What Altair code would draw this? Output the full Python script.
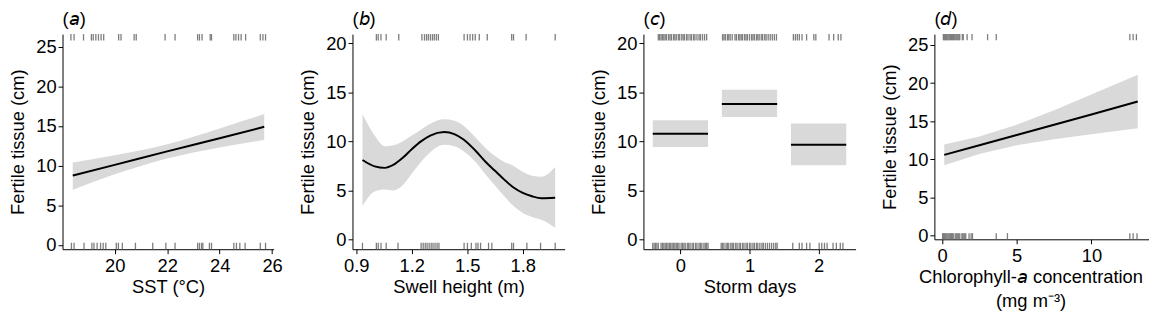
import altair as alt
import pandas as pd

FONT = "Liberation Sans"
FS = 18.5
BAND = "#d9d9d9"
RUG = "#7d7d7d"

# ---------------- panel (a): SST ----------------
a_x = [18.4, 20.0, 22.0, 24.0, 25.7]
a_fit = [8.75, 10.1, 11.8, 13.45, 14.9]
a_lo = [6.95, 8.9, 10.9, 12.3, 13.25]
a_hi = [10.4, 11.3, 12.7, 14.7, 16.5]
a_rug_top = [18.33, 18.45, 18.81, 19.11, 19.18, 19.28, 19.38, 19.48, 19.58, 20.15, 20.24,
             20.74, 20.82, 21.92, 22.30, 23.16, 23.23, 23.33, 23.64, 23.69, 24.54, 24.62,
             24.72, 24.82, 24.99, 25.55, 25.65, 25.75]
a_rug_bot = [18.35, 18.45, 18.83, 19.13, 19.21, 19.33, 19.46, 19.56, 19.66, 20.06, 20.14,
             20.29, 20.79, 21.45, 21.95, 22.30, 23.16, 23.23, 23.31, 23.36, 23.61, 23.69,
             24.54, 24.64, 24.77, 24.97, 25.55, 25.75]

# ---------------- panel (b): swell height ----------------
b_x = [0.934, 1.00, 1.055, 1.10, 1.15, 1.20, 1.25, 1.30, 1.376, 1.43, 1.48, 1.545,
       1.60, 1.65, 1.70, 1.75, 1.80, 1.85, 1.90, 1.975]
b_fit = [8.1, 7.45, 7.3, 7.6, 8.3, 9.2, 10.0, 10.6, 10.95, 10.75, 10.2, 9.05,
         7.9, 7.0, 6.1, 5.3, 4.75, 4.4, 4.2, 4.25]
b_lo = [3.4, 4.9, 5.1, 5.0, 5.5, 6.7, 7.9, 8.9, 9.65, 9.5, 9.0, 7.9,
        6.6, 5.5, 4.4, 3.4, 2.7, 2.3, 2.0, 1.2]
b_hi = [12.8, 10.6, 9.5, 9.6, 10.0, 10.6, 11.2, 11.8, 12.25, 12.1, 11.6, 10.4,
        9.3, 8.5, 7.9, 7.5, 6.9, 6.5, 6.4, 7.4]
b_rug_top = [1.009, 1.019, 1.034, 1.062, 1.130, 1.255, 1.269, 1.280, 1.290, 1.301, 1.312,
             1.322, 1.333, 1.344, 1.483, 1.501, 1.515, 1.529, 1.543, 1.565, 1.608, 1.740,
             1.750, 1.818, 1.975]
b_rug_bot = [0.934, 1.009, 1.019, 1.034, 1.062, 1.126, 1.251, 1.262, 1.273, 1.283, 1.294,
             1.305, 1.315, 1.326, 1.337, 1.347, 1.483, 1.501, 1.522, 1.547, 1.558, 1.572,
             1.615, 1.633, 1.740, 1.750, 1.822, 1.896, 1.975]

# ---------------- panel (c): storm days ----------------
c_cat = [0, 1, 2]
c_fit = [10.79, 13.82, 9.65]
c_lo = [9.44, 12.5, 7.56]
c_hi = [12.17, 15.27, 11.84]
c_rug_top = [-0.32, -0.30, -0.28, -0.26, -0.24, -0.22, -0.20, -0.17, -0.15, -0.13, -0.10,
             -0.08, -0.06, -0.03, -0.01, 0.02, 0.04, 0.06, 0.09, 0.11, 0.14, 0.16, 0.19,
             0.21, 0.24, 0.27, 0.29, 0.32, 0.35, 0.38,
             0.61, 0.63, 0.65, 0.68, 0.70, 0.72, 0.75, 0.79, 0.81, 0.84, 0.86, 0.88, 0.90,
             0.93, 0.95, 0.97, 1.00, 1.03, 1.05, 1.07, 1.10, 1.12, 1.14, 1.17, 1.19, 1.22,
             1.24, 1.27, 1.30, 1.33, 1.36, 1.39,
             1.635, 1.664, 1.692, 1.721, 1.760, 1.826, 1.931, 1.960, 2.151, 2.218, 2.284, 2.323]
c_rug_bot = [-0.40, -0.38, -0.36, -0.34, -0.32, -0.28, -0.26, -0.24, -0.22, -0.20, -0.18,
             -0.16, -0.14, -0.12, -0.10, -0.08, -0.06, -0.04, -0.02, 0.01, 0.03, 0.05, 0.07,
             0.10, 0.12, 0.14, 0.17, 0.19, 0.22, 0.24, 0.27, 0.29, 0.31, 0.34, 0.36, 0.38, 0.40,
             0.59, 0.61, 0.63, 0.66, 0.68, 0.70, 0.73, 0.75, 0.77, 0.80, 0.82, 0.85, 0.87,
             0.90, 0.92, 0.95, 0.97, 1.00, 1.02, 1.05, 1.07, 1.10, 1.12, 1.15, 1.18, 1.20,
             1.23, 1.26, 1.29, 1.32, 1.35, 1.38, 1.40,
             1.626, 1.721, 1.760, 1.826, 1.874, 2.008, 2.046, 2.085, 2.123, 2.209, 2.257,
             2.314, 2.352]

# ---------------- panel (d): chlorophyll-a ----------------
d_x = [0.15, 2.5, 5.0, 7.5, 10.0, 13.1]
d_fit = [10.6, 11.85, 13.2, 14.55, 15.9, 17.6]
d_lo = [9.25, 10.7, 11.85, 12.65, 13.3, 14.1]
d_hi = [11.95, 13.0, 14.55, 16.45, 18.5, 21.1]
d_rug_top = [0.09, 0.14, 0.19, 0.24, 0.29, 0.34, 0.40, 0.46, 0.52, 0.58, 0.64, 0.70, 0.76,
             0.82, 0.88, 0.95, 1.02, 1.08, 1.14, 1.19, 1.36, 1.42, 1.68, 2.01, 3.05, 3.63,
             12.57, 12.79, 13.01]
d_rug_bot = [0.04, 0.10, 0.16, 0.22, 0.28, 0.34, 0.40, 0.46, 0.52, 0.58, 0.64, 0.70, 0.75,
             0.88, 0.94, 1.00, 1.06, 1.12, 1.19, 1.33, 1.39, 1.46, 1.52, 1.59, 1.81, 1.95,
             2.04, 3.63, 4.38, 12.57, 12.79, 13.05]

YTITLE = "Fertile tissue (cm)"


def panel(title, xs, ys, xaxis, yaxis, main_layers, rug_top, rug_bot, w, h):
    ylo, yhi = ys.domain
    rl = 0.03 * (yhi - ylo)
    top = alt.Chart(pd.DataFrame({"x": rug_top})).mark_rule(color=RUG, strokeWidth=1.3).encode(
        x=alt.X("x:Q", scale=xs, axis=xaxis),
        y=alt.datum(yhi, scale=ys, axis=yaxis), y2=alt.datum(yhi - rl))
    bot = alt.Chart(pd.DataFrame({"x": rug_bot})).mark_rule(color=RUG, strokeWidth=1.3).encode(
        x="x:Q", y=alt.datum(ylo), y2=alt.datum(ylo + rl))
    return alt.layer(top, bot, *main_layers).properties(
        width=w, height=h, title=alt.TitleParams(title))


def xax(title, values, fmt=None, **extra):
    kw = dict(title=title, values=values, labelFlush=False)
    if fmt:
        kw["format"] = fmt
    kw.update(extra)
    return alt.Axis(**kw)


def yax(values):
    return alt.Axis(title=YTITLE, values=values)


def smooth_layers(xv, fit, lo, hi, interp):
    df = pd.DataFrame({"x": xv, "fit": fit, "lo": lo, "hi": hi})
    band = alt.Chart(df).mark_area(color=BAND, interpolate=interp).encode(
        x="x:Q", y="lo:Q", y2="hi:Q")
    line = alt.Chart(df).mark_line(color="black", strokeWidth=2, interpolate=interp).encode(
        x="x:Q", y="fit:Q")
    return [band, line]


# (a)
xs_a = alt.Scale(domain=[18.01, 26.06], nice=False, zero=False)
ys_a = alt.Scale(domain=[-0.54, 26.59], nice=False, zero=False)
pa = panel("(𝘢)", xs_a, ys_a, xax("SST (°C)", [20, 22, 24, 26]), yax([0, 5, 10, 15, 20, 25]),
           smooth_layers(a_x, a_fit, a_lo, a_hi, "monotone"), a_rug_top, a_rug_bot, 213, 217)

# (b)
xs_b = alt.Scale(domain=[0.880, 2.026], nice=False, zero=False)
ys_b = alt.Scale(domain=[-1.0, 20.95], nice=False, zero=False)
pb = panel("(𝘣)", xs_b, ys_b, xax("Swell height (m)", [0.9, 1.2, 1.5, 1.8], ".1f"),
           yax([0, 5, 10, 15, 20]),
           smooth_layers(b_x, b_fit, b_lo, b_hi, "monotone"), b_rug_top, b_rug_bot, 214, 217)

# (c)
xs_c = alt.Scale(domain=[-0.535, 2.535], nice=False, zero=False)
ys_c = alt.Scale(domain=[-1.0, 20.95], nice=False, zero=False)
dfc = pd.DataFrame({"cat": c_cat, "fit": c_fit, "lo": c_lo, "hi": c_hi})
c_base = alt.Chart(dfc).transform_calculate(xl="datum.cat - 0.4", xr="datum.cat + 0.4")
c_rect = c_base.mark_rect(color=BAND).encode(x="xl:Q", x2="xr:Q", y="lo:Q", y2="hi:Q")
c_rule = c_base.mark_rule(color="black", strokeWidth=2).encode(x="xl:Q", x2="xr:Q", y="fit:Q")
pc = panel("(𝘤)", xs_c, ys_c, xax("Storm days", [0, 1, 2], "d"), yax([0, 5, 10, 15, 20]),
           [c_rect, c_rule], c_rug_top, c_rug_bot, 214, 217)

# (d)
xs_d = alt.Scale(domain=[-0.51, 13.82], nice=False, zero=False)
ys_d = alt.Scale(domain=[-0.47, 26.43], nice=False, zero=False)
pd_ = panel("(𝘥)", xs_d, ys_d,
            xax(["Chlorophyll-𝘢 concentration", "(mg m⁻³)"], [0, 5, 10], titleX=97),
            yax([0, 5, 10, 15, 20, 25]),
            smooth_layers(d_x, d_fit, d_lo, d_hi, "linear"), d_rug_top, d_rug_bot, 216, 207)

chart = alt.hconcat(pa, pb, pc, pd_, spacing=79.5, bounds="flush").properties(
    padding={"left": 0, "top": 0, "right": 0, "bottom": 0}
).configure_view(stroke=None).configure_axis(
    domainColor="black", domainWidth=1, tickColor="black", tickWidth=1, tickSize=4.5,
    labelColor="black", titleColor="black", labelFont=FONT, titleFont=FONT,
    labelFontSize=FS, titleFontSize=FS, titleFontWeight="normal", grid=False,
    titleLineHeight=24
).configure_axisX(labelPadding=3, titlePadding=3).configure_axisY(
    labelPadding=2, titlePadding=8
).configure_title(
    font=FONT, fontSize=FS, fontWeight="normal", anchor="start", frame="group",
    offset=5, color="black"
)

chart.save("out.html", embed_options={"renderer": "svg", "actions": False})
